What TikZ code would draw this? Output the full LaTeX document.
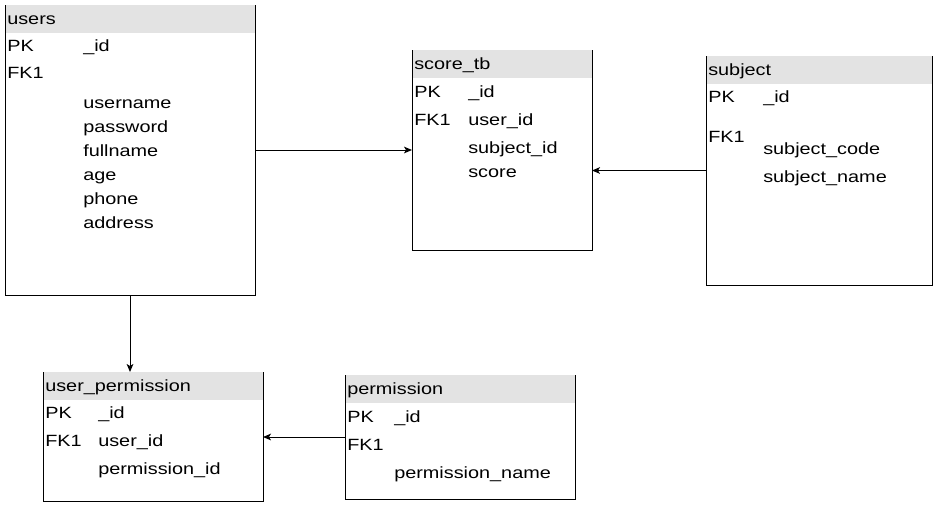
\documentclass[tikz,border=0pt]{standalone}
\usepackage{fontspec}
\setmainfont[FakeStretch=1.22]{Liberation Sans}
\usetikzlibrary{arrows.meta,fit,calc}
\definecolor{hdrgray}{HTML}{E3E3E3}
\newcommand\mytable[6]{%
  \node[tblbox, fit={(#2,#3) (#4,#5)}] (#1) {};
  \fill[hdrgray] (#1.north west) rectangle ($(#1.north east)+(0,28)$);
  \draw[bd] (#1.north west) -- (#1.south west) -- (#1.south east) -- (#1.north east);
  \node[txt] (#1-title) at (#2+2,#3+14) {#6};
}
\begin{document}
\begin{tikzpicture}[x=0.75pt,y=-0.75pt,
  tblbox/.style={draw=none,inner sep=0pt,outer sep=0pt},
  bd/.style={draw=black,line width=0.75pt},
  txt/.style={anchor=west,inner sep=0pt,text height=0.7em,text depth=0.2em,yshift=-1.9pt,
              font=\fontsize{12.2pt}{14pt}\selectfont},
  arr/.style={draw=black,line width=0.75pt,-{Stealth[length=6pt,width=5pt,inset=1.5pt]}}]
\useasboundingbox (0,0) rectangle (942,508);
\fill[white] (0,0) rectangle (942,508);

% users
\mytable{users}{5}{5}{255}{295}{users}
\node[txt] (u-pk) at (7,46) {PK};
\node[txt] (u-pkv) at (83,46) {\_id};
\node[txt] (u-fk) at (7,73) {FK1};
\node[txt] (u-1) at (83,103) {username};
\node[txt] (u-2) at (83,127) {password};
\node[txt] (u-3) at (83,151) {fullname};
\node[txt] (u-4) at (83,175) {age};
\node[txt] (u-5) at (83,199) {phone};
\node[txt] (u-6) at (83,223) {address};

% score_tb
\mytable{score}{412}{50}{592}{250}{score\_tb}
\node[txt] (s-pk) at (414,92) {PK};
\node[txt] (s-pkv) at (468,92) {\_id};
\node[txt] (s-fk) at (414,120) {FK1};
\node[txt] (s-fkv) at (468,120) {user\_id};
\node[txt] (s-1) at (468,148) {subject\_id};
\node[txt] (s-2) at (468,172) {score};

% subject
\mytable{subject}{706}{56}{932}{285}{subject}
\node[txt] (sb-pk) at (708,97) {PK};
\node[txt] (sb-pkv) at (763,97) {\_id};
\node[txt] (sb-fk) at (708,137) {FK1};
\node[txt] (sb-1) at (763,149) {subject\_code};
\node[txt] (sb-2) at (763,177) {subject\_name};

% user_permission
\mytable{uperm}{43}{372}{263}{501}{user\_permission}
\node[txt] (up-pk) at (45,413) {PK};
\node[txt] (up-pkv) at (98,413) {\_id};
\node[txt] (up-fk) at (45,441) {FK1};
\node[txt] (up-fkv) at (98,441) {user\_id};
\node[txt] (up-1) at (98,469) {permission\_id};

% permission
\mytable{perm}{345}{375}{575}{499}{permission}
\node[txt] (p-pk) at (347,417) {PK};
\node[txt] (p-pkv) at (394,417) {\_id};
\node[txt] (p-fk) at (347,445) {FK1};
\node[txt] (p-1) at (394,473) {permission\_name};

% connectors
\draw[arr] (users.east) -- (users.east -| score.west);
\draw[arr] (subject.west) -- (subject.west -| score.east);
\draw[arr] (users.south) -- (users.south |- uperm.north);
\draw[arr] (perm.west) -- (perm.west -| uperm.east);
\end{tikzpicture}
\end{document}
